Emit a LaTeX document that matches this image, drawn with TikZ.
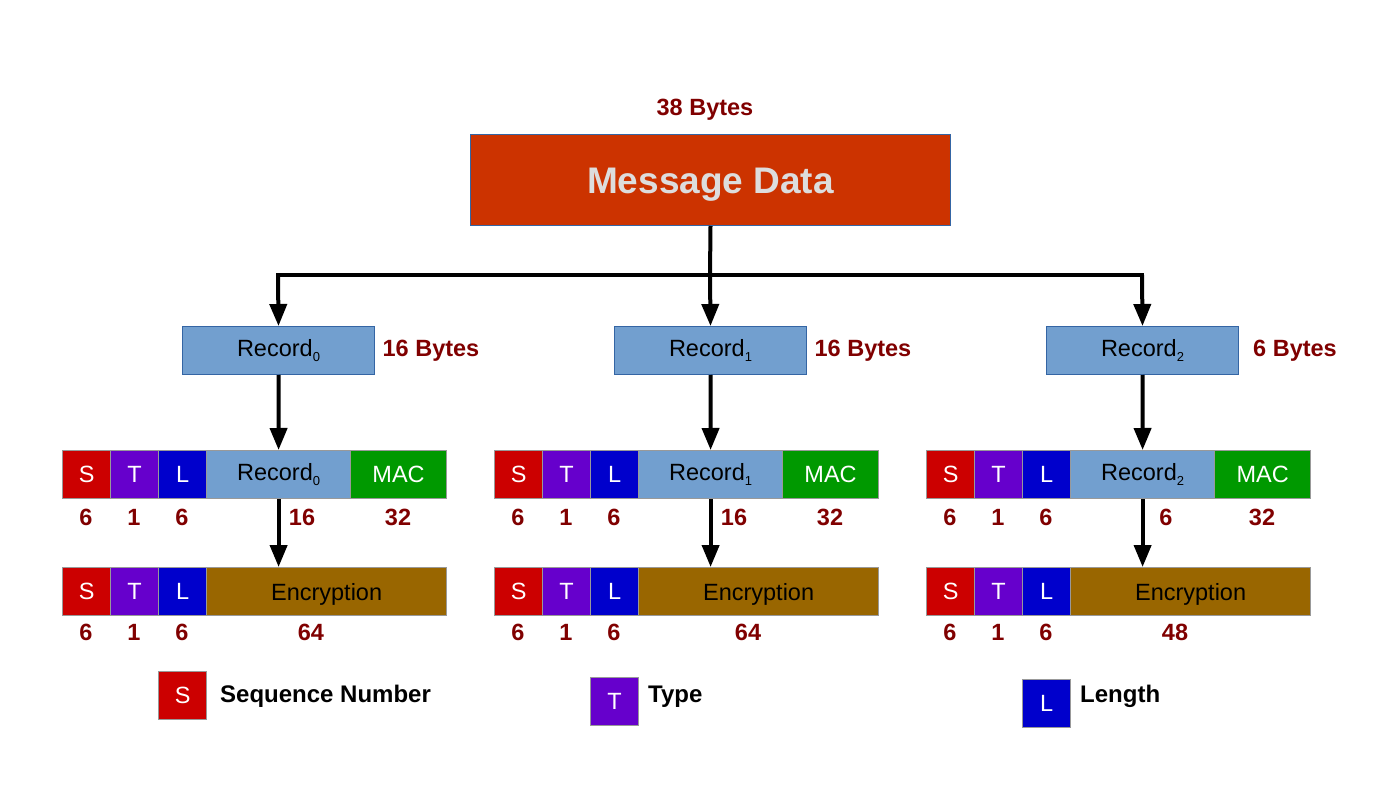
\documentclass[tikz,border=0pt]{standalone}
\usepackage{fontspec}
\setmainfont{Liberation Sans}
\usetikzlibrary{arrows.meta}
\definecolor{msgred}{HTML}{CC3300}
\definecolor{recblue}{HTML}{729FCF}
\definecolor{recedge}{HTML}{3465A4}
\definecolor{sred}{HTML}{CC0000}
\definecolor{tpurple}{HTML}{6600CC}
\definecolor{lblue}{HTML}{0000CC}
\definecolor{macgreen}{HTML}{009900}
\definecolor{encbrown}{HTML}{996600}
\definecolor{numred}{HTML}{800000}
\definecolor{celledge}{HTML}{999999}
\definecolor{msgtext}{HTML}{DDDDDD}
\newcommand{\recsub}[1]{Record\raisebox{-0.45ex}{\fontsize{13}{13}\selectfont #1}}
\tikzset{
  cell/.style={draw=celledge, line width=1.2pt, anchor=north west, minimum height=48pt,
    inner sep=0pt, font=\fontsize{23.5}{27}\selectfont, text=white},
  rectop/.style={draw=recedge, line width=1pt, fill=recblue, anchor=north west,
    minimum width=192pt, minimum height=48pt, inner sep=0pt, font=\fontsize{23.5}{27}\selectfont},
  numlbl/.style={text=numred, font=\bfseries\fontsize{23.5}{27}\selectfont, inner sep=0pt},
  line/.style={line width=4pt, draw=black},
  arr/.style={line width=4pt, draw=black, -{Triangle[width=17pt,length=22pt]}},
  legtext/.style={anchor=west, font=\bfseries\fontsize{24}{28}\selectfont, inner sep=0pt}
}
\begin{document}
\begin{tikzpicture}[x=1pt,y=-1pt]
\useasboundingbox (0,0) rectangle (1395,794);
% top
\node[numlbl] (bytes) at (705,110) {38 Bytes};
\node[draw=recedge, line width=1pt, fill=msgred, anchor=north west, minimum width=480pt,
  minimum height=91pt, inner sep=0pt, text height=26.5pt, text depth=0pt, text=msgtext,
  font=\bfseries\fontsize{37}{41}\selectfont]
  (msg) at (470,134) {Message Data};
\coordinate (hl) at (278,275);
\coordinate (hm) at (710,275);
\coordinate (hr) at (1142,275);
\draw[line] (msg.south) -- (hm);
\draw[line, line cap=rect] (hl) -- (hr);

\foreach \g/\dx/\rl/\el/\elx/\by in {0/0/16/64/311/16 Bytes,1/432/16/64/316/16 Bytes,2/864/6/48/311/6 Bytes}{
  % record box
  \node[rectop] (r\g) at (182+\dx,326) {\recsub{\g}};
  \node[numlbl] (by\g) at (431+\dx,351) {\by};
  % row 1
  \node[cell, fill=sred, minimum width=48pt] (s\g) at (62+\dx,450) {S};
  \node[cell, fill=tpurple, minimum width=48pt] (t\g) at (110+\dx,450) {T};
  \node[cell, fill=lblue, minimum width=48pt] (l\g) at (158+\dx,450) {L};
  \node[cell, fill=recblue, text=black, minimum width=144pt] (rc\g) at (206+\dx,450) {\recsub{\g}};
  \node[cell, fill=macgreen, minimum width=96pt] (mac\g) at (350+\dx,450) {MAC};
  \node[numlbl] (ns\g) at (86+\dx,517) {6};
  \node[numlbl] (nt\g) at (134+\dx,517) {1};
  \node[numlbl] (nl\g) at (182+\dx,517) {6};
  \node[numlbl] (nr\g) at (302+\dx,517) {\rl};
  \node[numlbl] (nm\g) at (398+\dx,517) {32};
  % row 2
  \node[cell, fill=sred, minimum width=48pt] (es\g) at (62+\dx,567) {S};
  \node[cell, fill=tpurple, minimum width=48pt] (et\g) at (110+\dx,567) {T};
  \node[cell, fill=lblue, minimum width=48pt] (el\g) at (158+\dx,567) {L};
  \node[cell, fill=encbrown, text=black, minimum width=240pt, text height=17pt, text depth=0pt] (enc\g) at (206+\dx,567) {Encryption};
  \node[numlbl] (ens\g) at (86+\dx,632) {6};
  \node[numlbl] (ent\g) at (134+\dx,632) {1};
  \node[numlbl] (enl\g) at (182+\dx,632) {6};
  \node[numlbl] (ene\g) at (\elx+\dx,632) {\el};
  % arrows
  \draw[arr] (r\g.south) -- (rc\g.north);
  \draw[arr] (rc\g.south) -- (rc\g.south |- enc\g.north);
}
\draw[arr] (hl) -- (r0.north);
\draw[arr] (hm) -- (r1.north);
\draw[arr] (hr) -- (r2.north);

% legend
\node[cell, fill=sred, minimum width=48pt] (legs) at (158,671) {S};
\node[legtext] (legst) at (220,696) {Sequence Number};
\node[cell, fill=tpurple, minimum width=48pt] (legt) at (590,677) {T};
\node[legtext] (legtt) at (648,697) {Type};
\node[cell, fill=lblue, minimum width=48pt] (legl) at (1022,679) {L};
\node[legtext] (leglt) at (1080,696) {Length};
\end{tikzpicture}
\end{document}
